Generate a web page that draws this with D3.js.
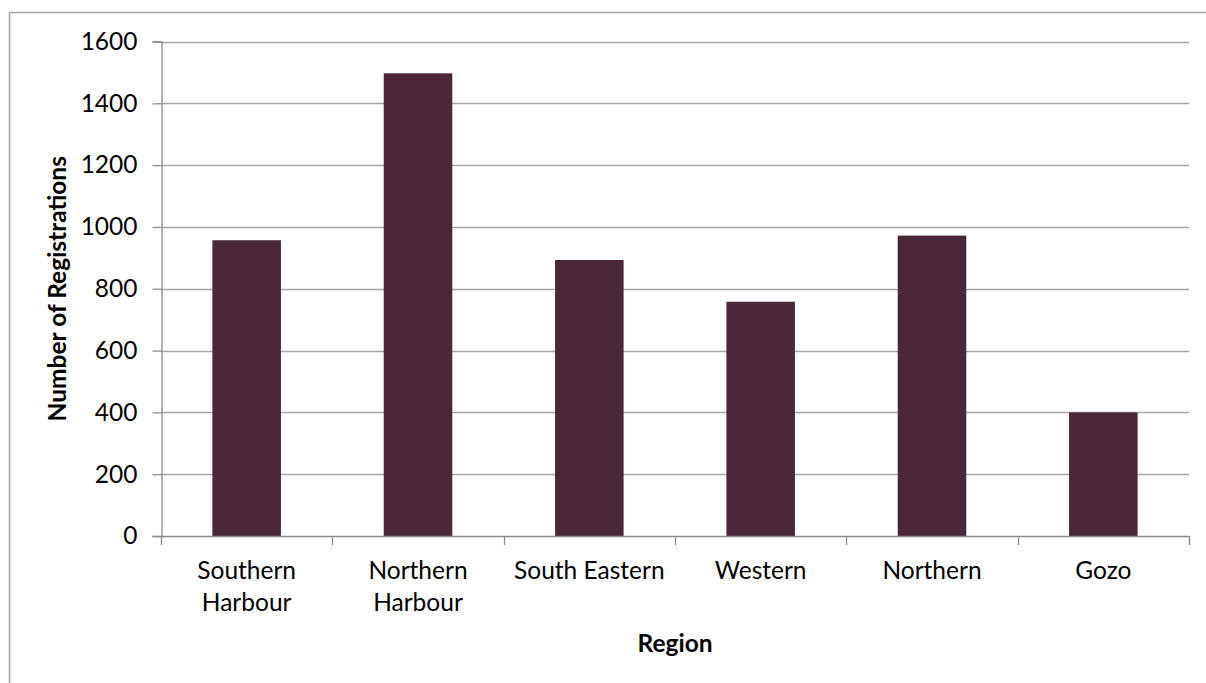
<!DOCTYPE html>
<html>
<head>
<meta charset="utf-8">
<script src="https://cdn.jsdelivr.net/npm/d3@7/dist/d3.min.js"></script>
<style>
  html, body { margin: 0; padding: 0; background: #fff; }
  svg { display: block; }
  text { font-family: Lato, "Open Sans", sans-serif; fill: #000; }
</style>
</head>
<body>
<svg id="chart" width="1206" height="683"></svg>
<script>
const categories = [["Southern", "Harbour"], ["Northern", "Harbour"], ["South Eastern"], ["Western"], ["Northern"], ["Gozo"]];
const values = [957, 1497, 893, 758, 972, 400];
const yTicks = [0, 200, 400, 600, 800, 1000, 1200, 1400, 1600];
const yTitle = "Number of Registrations";
const xTitle = "Region";

const svg = d3.select("#chart");
const m = { left: 161, right: 1189, top: 41.5, bottom: 536 };
const FS = 24.5;

// chart border
svg.append("rect").attr("x", 9.5).attr("y", 12.5).attr("width", 1220).attr("height", 700)
  .attr("fill", "none").attr("stroke", "#a6a6a6").attr("stroke-width", 1.5);

const keys = categories.map(c => c.join(" "));
const x = d3.scaleBand().domain(keys).range([m.left, m.right]).paddingInner(0.6).paddingOuter(0.3);
const y = d3.scaleLinear().domain([0, 1600]).range([m.bottom, m.top]);

// gridlines
svg.append("g").selectAll("line").data(yTicks.filter(d => d > 0)).join("line")
  .attr("x1", m.left).attr("x2", m.right)
  .attr("y1", d => Math.round(y(d)) + 0.5).attr("y2", d => Math.round(y(d)) + 0.5)
  .attr("stroke", "#a6a6a6").attr("stroke-width", 1.3);

// bars
svg.append("g").selectAll("rect").data(values).join("rect")
  .attr("x", (d, i) => x(keys[i]))
  .attr("width", x.bandwidth())
  .attr("y", d => y(d))
  .attr("height", d => y(0) - y(d))
  .attr("fill", "#4a2839");

// y axis
const yAxis = d3.axisLeft(y).tickValues(yTicks).tickSize(9).tickPadding(15).tickFormat(d3.format("d"));
const gy = svg.append("g").attr("transform", `translate(${m.left + 0.5},0)`).call(yAxis);
gy.select(".domain").attr("stroke", "#8c8c8c").attr("stroke-width", 1.3);
gy.selectAll(".tick line").attr("stroke", "#8c8c8c").attr("stroke-width", 1.3);
gy.selectAll(".tick text").attr("font-size", FS).attr("font-family", "Lato, sans-serif").attr("fill", "#000");

// x axis baseline and boundary ticks
const bounds = d3.range(keys.length + 1).map(i => m.left + i * (m.right - m.left) / keys.length);
svg.append("line").attr("x1", m.left).attr("x2", m.right)
  .attr("y1", y(0) + 0.5).attr("y2", y(0) + 0.5).attr("stroke", "#8c8c8c").attr("stroke-width", 1.3);
svg.append("g").selectAll("line").data(bounds).join("line")
  .attr("x1", d => Math.round(d) + 0.5).attr("x2", d => Math.round(d) + 0.5)
  .attr("y1", y(0)).attr("y2", y(0) + 9).attr("stroke", "#8c8c8c").attr("stroke-width", 1.3);

// category labels
const lab = svg.append("g").selectAll("text").data(categories).join("text")
  .attr("text-anchor", "middle").attr("font-size", FS)
  .attr("x", (d, i) => x(keys[i]) + x.bandwidth() / 2)
  .attr("y", 579);
lab.selectAll("tspan").data(d => d).join("tspan")
  .attr("x", function() { return d3.select(this.parentNode).attr("x"); })
  .attr("dy", (d, i) => i === 0 ? 0 : 32)
  .text(d => d);

// axis titles
svg.append("text").attr("text-anchor", "middle").attr("font-size", FS).attr("font-weight", "bold")
  .attr("transform", `translate(66,${(m.top + m.bottom) / 2}) rotate(-90)`)
  .text(yTitle);
svg.append("text").attr("text-anchor", "middle").attr("font-size", FS).attr("font-weight", "bold")
  .attr("x", (m.left + m.right) / 2).attr("y", 652)
  .text(xTitle);
</script>
</body>
</html>
